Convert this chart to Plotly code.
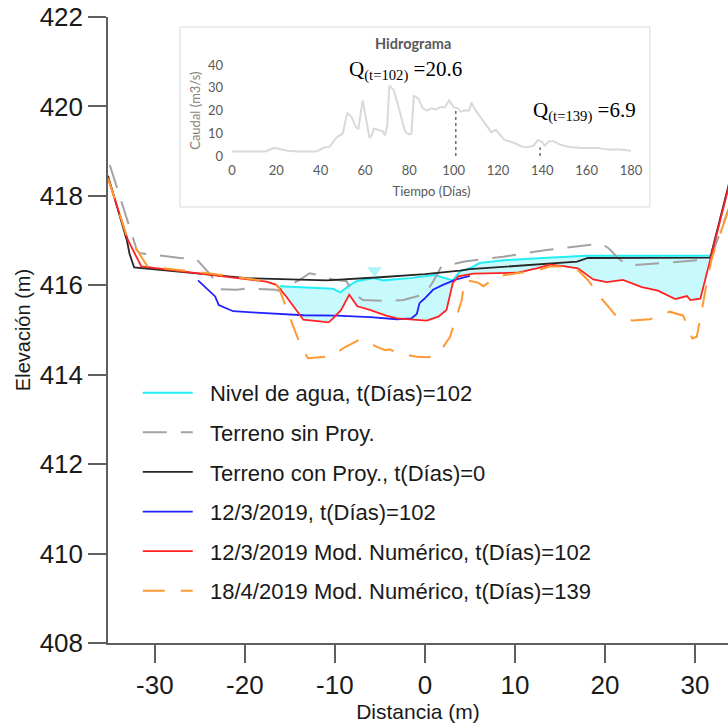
import plotly.graph_objects as go

# ---------------- Main cross-section data ----------------
agua_x = [-16.1, -10.2, -9.4, -8.5, -7.6, -5.7, -4.6, -1.7, 1.1, 2.4, 3.1, 3.9, 5.0, 6.1, 8.7, 13.1, 18.0, 31.7]
agua_y = [415.98, 415.92, 415.84, 415.98, 416.09, 416.16, 416.11, 416.16, 416.23, 416.16, 416.11, 416.31, 416.38, 416.50, 416.56, 416.61, 416.66, 416.66]

sin_x = [-35.0, -32.0, -31.7, -30.0, -27.2, -25.4, -23.7, -22.8, -20.9, -19.8, -16.5, -16.3, -13.9, -12.8, -11.9,
         -10.2, -8.7, -8.1, -6.9, -4.3, -2.4, 0.0, 0.9, 1.85, 2.8, 4.4, 8.7, 13.5, 18.0, 19.6, 20.4, 21.5, 22.6,
         26.1, 31.7, 34.0]
sin_y = [418.69, 416.79, 416.72, 416.68, 416.61, 416.59, 416.21, 415.91, 415.90, 415.93, 415.90, 415.88, 416.12,
         416.27, 416.23, 416.13, 416.09, 415.86, 415.67, 415.65, 415.67, 415.80, 416.08, 416.43, 416.46, 416.53,
         416.64, 416.79, 416.90, 416.93, 416.83, 416.60, 416.44, 416.49, 416.58, 417.85]

con_x = [-35.2, -33.1, -32.8, -32.3, -19.8, -16.1, -10.9, -5.0, 0.0, 3.9, 5.0, 16.9, 18.1, 31.7, 34.0]
con_y = [418.45, 417.00, 416.70, 416.40, 416.16, 416.14, 416.11, 416.18, 416.25, 416.33, 416.36, 416.53, 416.61,
         416.62, 418.45]

obs_x = [-25.2, -23.3, -22.9, -21.3, -18.7, -16.1, -13.5, -9.8, -6.1, -3.1, -1.5, -0.9, -0.6, 0.0, 0.9, 2.0, 3.5, 5.0]
obs_y = [416.11, 415.75, 415.56, 415.42, 415.39, 415.36, 415.33, 415.32, 415.29, 415.24, 415.26, 415.36, 415.60,
         415.71, 415.90, 416.01, 416.13, 416.21]

mod102_x = [-35.2, -33.0, -31.5, -17.6, -16.5, -15.4, -13.5, -10.7, -10.2, -9.3, -8.4, -7.5, -6.1, -4.3, -3.1, -1.3,
            0.2, 1.5, 2.4, 3.1, 3.7, 5.4, 7.6, 10.2, 12.4, 13.9, 15.4, 17.0, 18.7, 20.2, 22.0, 24.1, 25.9, 27.8,
            29.1, 29.5, 30.6, 31.7, 34.0]
mod102_y = [418.40, 417.02, 416.42, 416.08, 416.01, 415.75, 415.23, 415.17, 415.26, 415.45, 415.79, 415.53, 415.45,
            415.32, 415.26, 415.24, 415.21, 415.30, 415.45, 416.05, 416.20, 416.26, 416.27, 416.28, 416.38, 416.46,
            416.43, 416.38, 416.13, 416.07, 416.12, 415.96, 415.88, 415.69, 415.76, 415.67, 415.70, 416.57, 418.40]

mod139_x = [-35.2, -33.1, -32.0, -31.1, -30.8, -24.5, -17.2, -16.3, -15.6, -13.9, -13.0, -10.2, -9.1, -7.2, -6.5,
            -5.2, -4.4, -3.9, -3.0, -0.9, 0.4, 1.7, 2.8, 4.1, 4.4, 5.9, 6.5, 8.1, 10.2, 12.4, 13.9, 15.7, 16.9,
            18.1, 19.6, 20.7, 21.3, 23.1, 25.0, 27.2, 28.7, 29.7, 30.2, 30.7, 31.5, 31.9, 34.0]
mod139_y = [418.40, 417.09, 416.79, 416.49, 416.42, 416.28, 416.08, 415.98, 415.60, 414.70, 414.37, 414.42, 414.59,
            414.79, 414.74, 414.61, 414.55, 414.57, 414.48, 414.40, 414.39, 414.52, 414.85, 415.67, 416.12, 416.06,
            415.98, 416.20, 416.27, 416.33, 416.42, 416.42, 416.36, 416.12, 415.71, 415.45, 415.30, 415.21, 415.24,
            415.41, 415.32, 414.81, 414.85, 415.37, 416.27, 416.62, 417.85]

nivel_marker_x = [-5.6]
nivel_marker_y = [416.33]

# ---------------- Hydrograph (inset) ----------------
hid_t = [0, 5, 10, 15, 19, 22, 25, 30, 38, 42, 44, 47, 50, 52, 54, 56, 57, 59, 61, 62, 63, 64, 66, 68, 69, 70, 71,
         73, 75, 77, 78, 79, 80, 81, 82, 84, 86, 88, 90, 92, 94, 96, 98, 100, 102, 103, 105, 107, 108, 110, 113,
         116, 117, 119, 121, 123, 125, 128, 131, 133, 136, 138, 140, 141, 143, 145, 148, 152, 158, 165, 170, 175, 180]
hid_q = [2.0, 2.0, 1.7, 2.0, 3.6, 3.0, 2.3, 2.0, 2.0, 3.8, 4.0, 8.0, 10.0, 19.0, 17.0, 12.5, 12.0, 24.5, 14.0, 8.0,
         9.0, 12.0, 11.5, 11.0, 9.0, 13.0, 31.0, 29.0, 22.0, 15.0, 11.0, 10.0, 9.5, 10.0, 26.5, 25.5, 21.0, 20.0,
         21.0, 20.5, 21.5, 21.5, 24.5, 21.5, 21.0, 19.5, 20.0, 20.0, 23.5, 20.0, 16.0, 12.0, 10.5, 11.5, 9.0, 7.0,
         6.5, 5.5, 4.0, 3.8, 4.5, 7.0, 6.0, 4.5, 6.5, 6.5, 5.0, 4.0, 3.5, 3.5, 2.8, 2.8, 2.3]
mark_t = [101, 139]
mark_q = [20.6, 3.8]

x_ticks = [-30, -20, -10, 0, 10, 20, 30]
x_ticktext = ["-30", "-20", "-10", "0", "10", "20", "30"]
y_ticks = [408, 410, 412, 414, 416, 418, 420, 422]
t_ticks = [0, 20, 40, 60, 80, 100, 120, 140, 160, 180]
q_ticks = [0, 10, 20, 30, 40]

NB = "\u00a0\u00a0"

fig = go.Figure()

# water fill between water surface and numerical-model bed
bed_pairs = [(x, y) for x, y in zip(mod102_x, mod102_y) if -16.5 <= x <= 31.7]
fill_x = agua_x + [p[0] for p in reversed(bed_pairs)]
fill_y = agua_y + [p[1] for p in reversed(bed_pairs)]
fig.add_trace(go.Scatter(x=fill_x, y=fill_y, fill="toself", fillcolor="#c8f9fc", mode="lines",
                         line=dict(width=0), showlegend=False, hoverinfo="skip"))

fig.add_trace(go.Scatter(x=agua_x, y=agua_y, mode="lines", name=NB + "Nivel de agua, t(Días)=102",
                         line=dict(color="#22eef5", width=2), legendgroup="a"))
fig.add_trace(go.Scatter(x=sin_x, y=sin_y, mode="lines", name=NB + "Terreno sin Proy.",
                         line=dict(color="#a3a3a3", width=2, dash="24px,14px"), legendgroup="b"))
fig.add_trace(go.Scatter(x=con_x, y=con_y, mode="lines", name=NB + "Terreno con Proy., t(Días)=0",
                         line=dict(color="#262626", width=1.8), legendgroup="c"))
fig.add_trace(go.Scatter(x=obs_x, y=obs_y, mode="lines", name=NB + "12/3/2019, t(Días)=102",
                         line=dict(color="#2222ff", width=1.8), legendgroup="d"))
fig.add_trace(go.Scatter(x=mod102_x, y=mod102_y, mode="lines", name=NB + "12/3/2019 Mod. Numérico, t(Días)=102",
                         line=dict(color="#ff2222", width=1.8), legendgroup="e"))
fig.add_trace(go.Scatter(x=mod139_x, y=mod139_y, mode="lines", name=NB + "18/4/2019 Mod. Numérico, t(Días)=139",
                         line=dict(color="#ff9933", width=2, dash="22px,16px"), legendgroup="f"))
fig.add_trace(go.Scatter(x=nivel_marker_x, y=nivel_marker_y, mode="markers", showlegend=False,
                         marker=dict(symbol="triangle-down", size=13, color="#aef4f8"), hoverinfo="skip"))

# inset
fig.add_trace(go.Scatter(x=hid_t, y=hid_q, mode="lines", xaxis="x2", yaxis="y2", showlegend=False,
                         line=dict(color="#d9d9d9", width=2)))
for t, q in zip(mark_t, mark_q):
    fig.add_trace(go.Scatter(x=[t, t], y=[0, q], mode="lines", xaxis="x2", yaxis="y2", showlegend=False,
                             line=dict(color="#222222", width=1, dash="dot")))

axis_col = "#5f5f5f"
inset_font = "Lato"
fig.update_layout(
    width=728, height=723,
    autosize=False,
    margin=dict(l=108, r=0, t=17, b=80, pad=0, autoexpand=False),
    paper_bgcolor="white", plot_bgcolor="white",
    font=dict(family="Liberation Sans, Arial", color="#1a1a1a"),
    xaxis=dict(range=[-35.2, 33.67], tickvals=x_ticks, ticktext=x_ticktext, ticks="outside", ticklen=18,
               tickwidth=1.5, tickcolor=axis_col, showline=True, linecolor=axis_col, linewidth=1.5,
               showgrid=False, zeroline=False, automargin=False, tickfont=dict(size=26, color="#1a1a1a"),
               title=dict(text="Distancia (m)", font=dict(size=21), standoff=4)),
    yaxis=dict(range=[408, 422], tickvals=y_ticks, ticks="outside", ticklen=18, tickwidth=1.5,
               tickcolor=axis_col, showline=True, linecolor=axis_col, linewidth=1.5, showgrid=False,
               zeroline=False, automargin=False, tickfont=dict(size=26, color="#1a1a1a"),
               title=dict(text="Elevación (m)", font=dict(size=20), standoff=4)),
    xaxis2=dict(domain=[0.2, 0.8435], anchor="y2", range=[0, 180], tickvals=t_ticks, showgrid=False,
                zeroline=False, showline=False, ticks="", automargin=False, ticklabelstandoff=5,
                tickfont=dict(size=13, color="#595959", family=inset_font),
                title=dict(text="Tiempo (Días)", font=dict(size=13, color="#595959", family=inset_font), standoff=9)),
    yaxis2=dict(domain=[0.778, 0.923], anchor="x2", range=[0, 40], tickvals=q_ticks, showgrid=False,
                zeroline=False, showline=False, ticks="", automargin=False, ticklabelstandoff=8,
                tickfont=dict(size=13, color="#595959", family=inset_font),
                title=dict(text="Caudal (m3/s)", font=dict(size=13, color="#8a7f75", family=inset_font), standoff=4)),
    legend=dict(x=0.048, y=0.433, xanchor="left", yanchor="top", bgcolor="rgba(0,0,0,0)",
                font=dict(size=22, color="#1a1a1a"), itemwidth=50, tracegroupgap=8),
    shapes=[dict(type="rect", xref="paper", yref="paper", x0=0.116, x1=0.874, y0=0.6965, y1=0.984,
                 line=dict(color="#d9d9d9", width=1), fillcolor="white", layer="below")],
    annotations=[
        dict(text="<b>Hidrograma</b>", xref="paper", yref="paper", x=0.492, y=0.958, showarrow=False,
             xanchor="center", yanchor="middle",
             font=dict(size=14.5, color="#595959", family=inset_font)),
        dict(text="Q<sub>(t=102)</sub> =20.6", xref="paper", yref="paper", x=0.4806, y=0.9153, showarrow=False,
             xanchor="center", yanchor="middle",
             font=dict(size=21, color="black", family="Liberation Serif")),
        dict(text="Q<sub>(t=139)</sub> =6.9", xref="paper", yref="paper", x=0.769, y=0.8498, showarrow=False,
             xanchor="center", yanchor="middle",
             font=dict(size=21, color="black", family="Liberation Serif")),
    ],
)

fig.write_html("out.html")
